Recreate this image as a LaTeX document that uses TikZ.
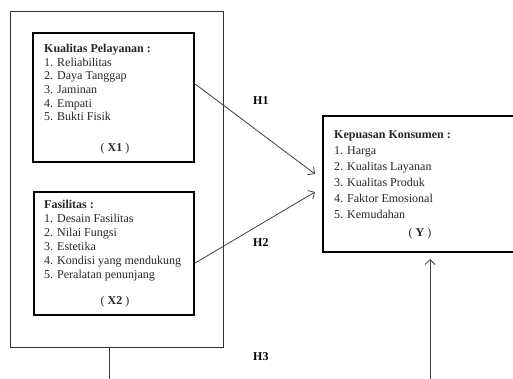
\documentclass[tikz,border=0pt]{standalone}
\usepackage{fontspec}
\setmainfont{Liberation Serif}
\usetikzlibrary{arrows.meta,calc}
\begin{document}
\begin{tikzpicture}[x=1pt,y=-1pt,
  thickbox/.style={draw=black,line width=2.3pt,inner sep=0pt},
  frame/.style={draw=black!80,line width=0.9pt,inner sep=0pt},
  txt/.style={anchor=base west,inner sep=0pt,font=\fontsize{12}{14}\selectfont,text=black!85},
  ctxt/.style={anchor=base,inner sep=0pt,font=\fontsize{12}{14}\selectfont,text=black!85},
  hlab/.style={anchor=base west,inner sep=0pt,font=\fontsize{12}{14}\selectfont\bfseries},
  conn/.style={draw=black!75,line width=0.8pt},
  arr/.style={conn,-{Straight Barb[length=5pt,width=10pt]}}
]
\useasboundingbox (0,0) rectangle (513,379);
% outer frame
\node[frame,minimum width=213pt,minimum height=336pt] (outer) at (116.5,179) {};
% boxes
\node[thickbox,minimum width=161pt,minimum height=129pt] (x1) at (113.5,97.5) {};
\node[thickbox,minimum width=160pt,minimum height=123pt] (x2) at (114,253.5) {};
\node[thickbox,minimum width=194pt,minimum height=136pt] (y) at (420,184) {};
% X1 text
\node[txt] (t1a) at (44,52.5) {\textbf{Kualitas Pelayanan :}};
\node[txt] (t1b) at (44,66.2) {1. Reliabilitas};
\node[txt] (t1c) at (44,79.9) {2. Daya Tanggap};
\node[txt] (t1d) at (44,93.6) {3. Jaminan};
\node[txt] (t1e) at (44,107.3) {4. Empati};
\node[txt] (t1f) at (44,121) {5. Bukti Fisik};
\node[ctxt] (t1g) at (115,151.5) {( \textbf{X1} )};
% X2 text
\node[txt] (t2a) at (44,208.3) {\textbf{Fasilitas :}};
\node[txt] (t2b) at (44,222.3) {1. Desain Fasilitas};
\node[txt] (t2c) at (44,236.3) {2. Nilai Fungsi};
\node[txt] (t2d) at (44,250.3) {3. Estetika};
\node[txt] (t2e) at (44,264.3) {4. Kondisi yang mendukung};
\node[txt] (t2f) at (44,278.3) {5. Peralatan penunjang};
\node[ctxt] (t2g) at (115,304) {( \textbf{X2} )};
% Y text
\node[txt] (t3a) at (334,139) {\textbf{Kepuasan Konsumen :}};
\node[txt] (t3b) at (334,154.9) {1. Harga};
\node[txt] (t3c) at (334,170.8) {2. Kualitas Layanan};
\node[txt] (t3d) at (334,186.7) {3. Kualitas Produk};
\node[txt] (t3e) at (334,202.6) {4. Faktor Emosional};
\node[txt] (t3f) at (334,218.5) {5. Kemudahan};
\node[ctxt] (t3g) at (420,236) {( \textbf{Y} )};
% labels
\node[hlab] (h1) at (253,105) {H1};
\node[hlab] (h2) at (253,246.7) {H2};
\node[hlab] (h3) at (253,360) {H3};
% connectors
\coordinate (s1) at (x1.east |- 0,84);
\coordinate (e1) at (315,174);
\coordinate (s2) at (x2.east |- 0,263);
\coordinate (e2) at (315,192);
\coordinate (s3) at (109,347);
\coordinate (f3) at (109,379);
\coordinate (s4) at (430,379);
\coordinate (e4) at (430,259);
\draw[arr] (s1) -- (e1);
\draw[arr] (s2) -- (e2);
\draw[conn] (s3) -- (f3);
\draw[arr] (s4) -- (e4);
\end{tikzpicture}
\end{document}
